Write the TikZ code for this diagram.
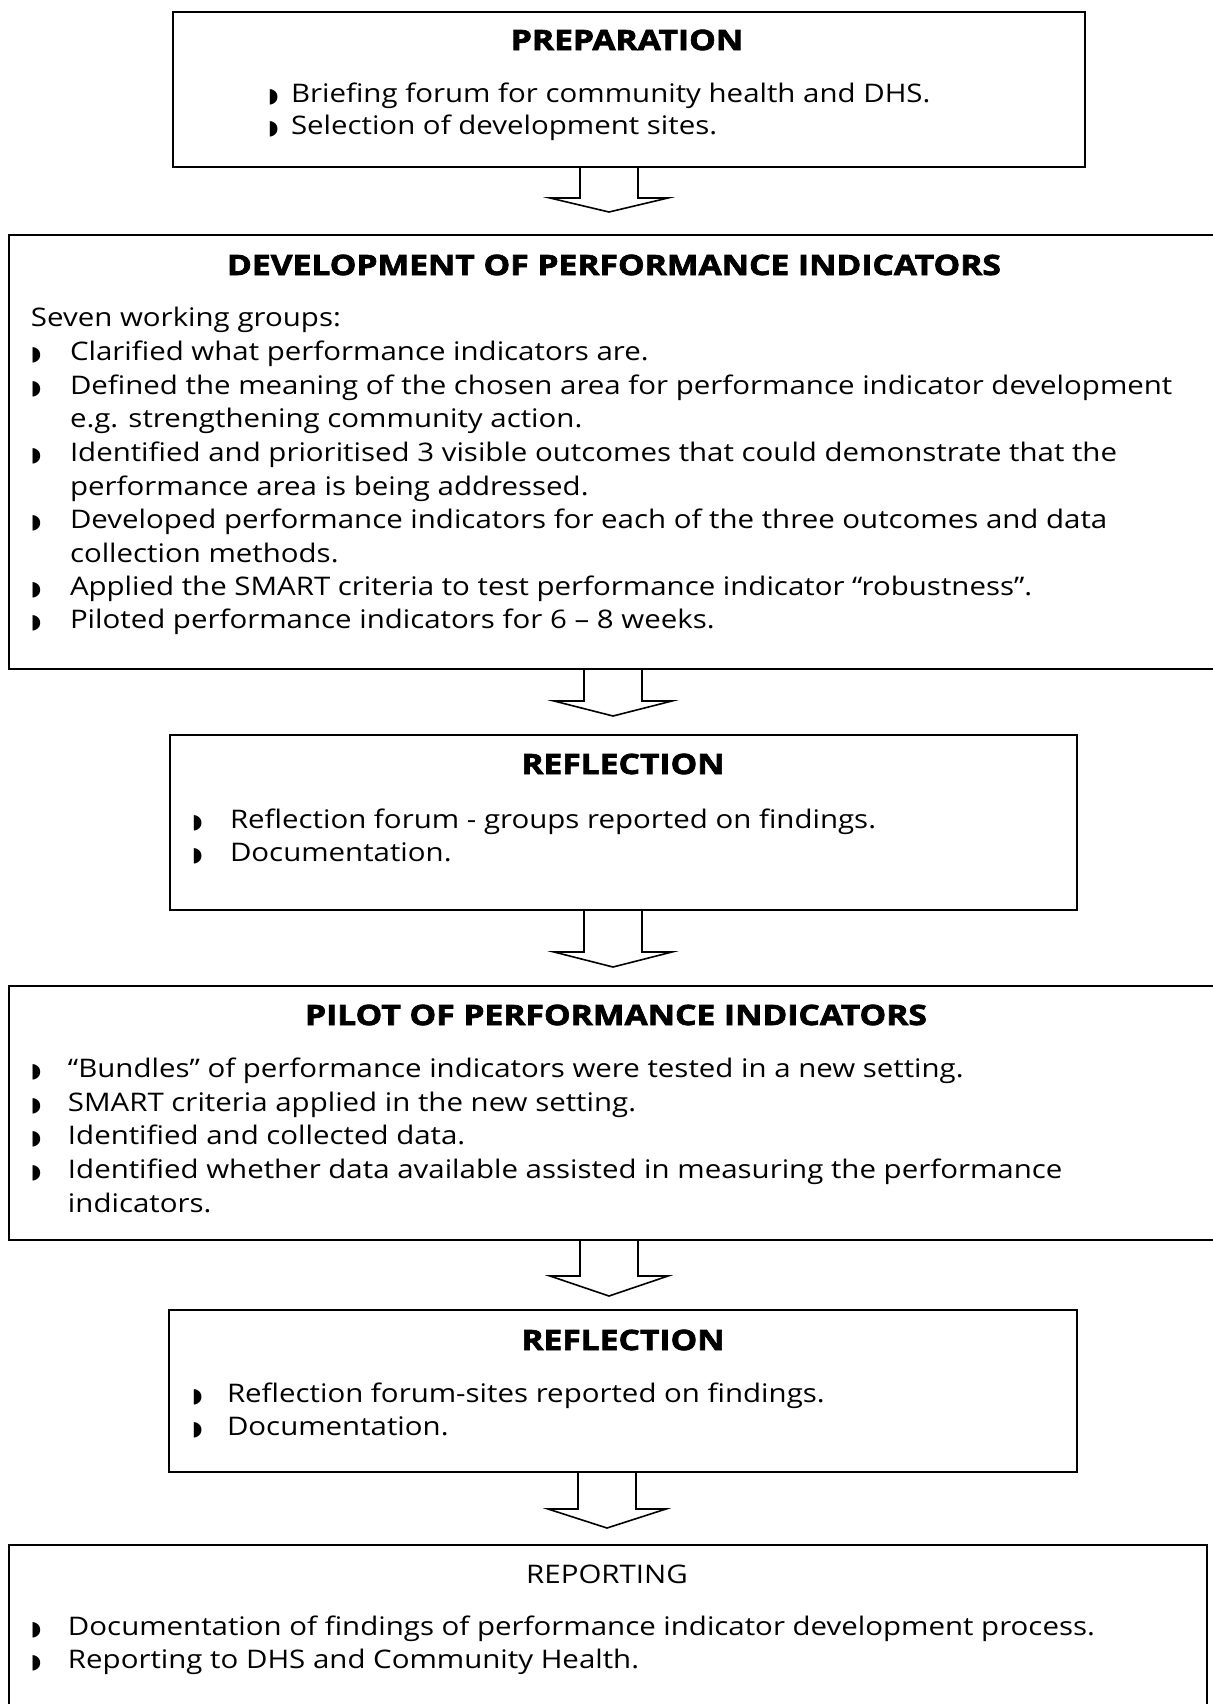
\documentclass[tikz,border=0pt]{standalone}
\usepackage{fontspec}
\usetikzlibrary{calc,fit}

\newfontfamily\bodyfont{Open Sans}[FakeStretch=1.15]
\newfontfamily\headfont{Open Sans}[FakeStretch=1.2,BoldFeatures={FakeBold=2.5}]
\newfontfamily\bulletfont{DejaVu Sans}
\newcommand{\bul}{{\bulletfont\fontsize{10pt}{10pt}\selectfont ◗}}

\begin{document}
\begin{tikzpicture}[x=0.5pt,y=-0.5pt,
  box/.style={draw=drawColor,line width=1.3pt,inner sep=0pt,outer sep=0pt},
  head/.style={text=drawColor,anchor=base,inner sep=0pt,outer sep=0pt,font=\headfont\bfseries\fontsize{14pt}{16pt}\selectfont},
  body/.style={text=drawColor,anchor=base west,inner sep=0pt,outer sep=0pt,font=\bodyfont\fontsize{12.8pt}{16.7pt}\selectfont},
  bulletnode/.style={text=drawColor,anchor=base west,inner sep=0pt,outer sep=0pt},
  blockarrow/.style={draw=drawColor,line width=0.8pt,line join=miter,to path={
    let \p1=(\tikztostart), \p2=(\tikztotarget) in
    (\x2-14.5pt,\y1) -- (\x2-14.5pt,\y2+#1) -- (\x2-29.5pt,\y2+#1) -- (\p2)
    -- (\x2+29.5pt,\y2+#1) -- (\x2+14.5pt,\y2+#1) -- (\x2+14.5pt,\y1)}}]
\definecolor{drawColor}{RGB}{0,0,0}
\path[use as bounding box,fill=white] (0,0) rectangle (1213,1704);
\begin{scope}
\path[clip] (0,0) rectangle (1213,1704);

% boxes
\node[box,fit={(173,12) (1085,167)}] (prep) {};
\node[box,fit={(9,235) (1222,669)}] (devel) {};
\node[box,fit={(170,735) (1077,910)}] (reflA) {};
\node[box,fit={(9,986) (1222,1240)}] (pilot) {};
\node[box,fit={(169,1310) (1077,1472)}] (reflB) {};
\node[box,fit={(9,1545) (1207,1720)}] (report) {};

% arrows between the stages
\coordinate (tipA) at (609,212);
\coordinate (tipB) at (613,716);
\coordinate (tipC) at (613,967);
\coordinate (tipD) at (609,1296);
\coordinate (tipE) at (607,1528);
\draw[blockarrow=7pt] (prep.south) to (tipA);
\draw[blockarrow=7.5pt] (devel.south) to (tipB);
\draw[blockarrow=7.5pt] (reflA.south) to (tipC);
\draw[blockarrow=10pt] (pilot.south) to (tipD);
\draw[blockarrow=9.5pt] (reflB.south) to (tipE);

% preparation
\node[head] (prepTitle) at (627,50) {PREPARATION};
\node[bulletnode] (prepB1) at (268,102) {\bul};
\node[body] (prepL1) at (291,102) {Briefing forum for community health and DHS.};
\node[bulletnode] (prepB2) at (268,134) {\bul};
\node[body] (prepL2) at (291,134) {Selection of development sites.};

% development
\node[head] (develTitle) at (614,275) {DEVELOPMENT OF PERFORMANCE INDICATORS};
\node[body] (develL0) at (31,326) {Seven working groups:};
\node[bulletnode] (develB1) at (31,360) {\bul};
\node[body] (develL1) at (70,360) {Clarified what performance indicators are.};
\node[bulletnode] (develB2) at (31,394) {\bul};
\node[body] (develL2) at (70,394) {Defined the meaning of the chosen area for performance indicator development};
\node[body] (develL2b) at (70,427) {e.g. strengthening community action.};
\node[bulletnode] (develB3) at (31,461) {\bul};
\node[body] (develL3) at (70,461) {Identified and prioritised 3 visible outcomes that could demonstrate that the};
\node[body] (develL3b) at (70,495) {performance area is being addressed.};
\node[bulletnode] (develB4) at (31,528) {\bul};
\node[body] (develL4) at (70,528) {Developed performance indicators for each of the three outcomes and data};
\node[body] (develL4b) at (70,562) {collection methods.};
\node[bulletnode] (develB5) at (31,595) {\bul};
\node[body] (develL5) at (70,595) {Applied the SMART criteria to test performance indicator “robustness”.};
\node[bulletnode] (develB6) at (31,628) {\bul};
\node[body] (develL6) at (70,628) {Piloted performance indicators for 6 – 8 weeks.};

% first reflection
\node[head] (reflATitle) at (623,774) {REFLECTION};
\node[bulletnode] (reflAB1) at (192,828) {\bul};
\node[body] (reflAL1) at (230,828) {Reflection forum - groups reported on findings.};
\node[bulletnode] (reflAB2) at (192,861) {\bul};
\node[body] (reflAL2) at (230,861) {Documentation.};

% pilot
\node[head] (pilotTitle) at (616,1025) {PILOT OF PERFORMANCE INDICATORS};
\node[bulletnode] (pilotB1) at (31,1077) {\bul};
\node[body] (pilotL1) at (68,1077) {“Bundles” of performance indicators were tested in a new setting.};
\node[bulletnode] (pilotB2) at (31,1111) {\bul};
\node[body] (pilotL2) at (68,1111) {SMART criteria applied in the new setting.};
\node[bulletnode] (pilotB3) at (31,1144) {\bul};
\node[body] (pilotL3) at (68,1144) {Identified and collected data.};
\node[bulletnode] (pilotB4) at (31,1178) {\bul};
\node[body] (pilotL4) at (68,1178) {Identified whether data available assisted in measuring the performance};
\node[body] (pilotL4b) at (68,1212) {indicators.};

% second reflection
\node[head] (reflBTitle) at (623,1350) {REFLECTION};
\node[bulletnode] (reflBB1) at (192,1402) {\bul};
\node[body] (reflBL1) at (227,1402) {Reflection forum-sites reported on findings.};
\node[bulletnode] (reflBB2) at (192,1435) {\bul};
\node[body] (reflBL2) at (227,1435) {Documentation.};

% reporting
\node[body,anchor=base] (reportTitle) at (607,1583) {REPORTING};
\node[bulletnode] (reportB1) at (31,1635) {\bul};
\node[body] (reportL1) at (68,1635) {Documentation of findings of performance indicator development process.};
\node[bulletnode] (reportB2) at (31,1668) {\bul};
\node[body] (reportL2) at (68,1668) {Reporting to DHS and Community Health.};
\end{scope}
\end{tikzpicture}
\end{document}
